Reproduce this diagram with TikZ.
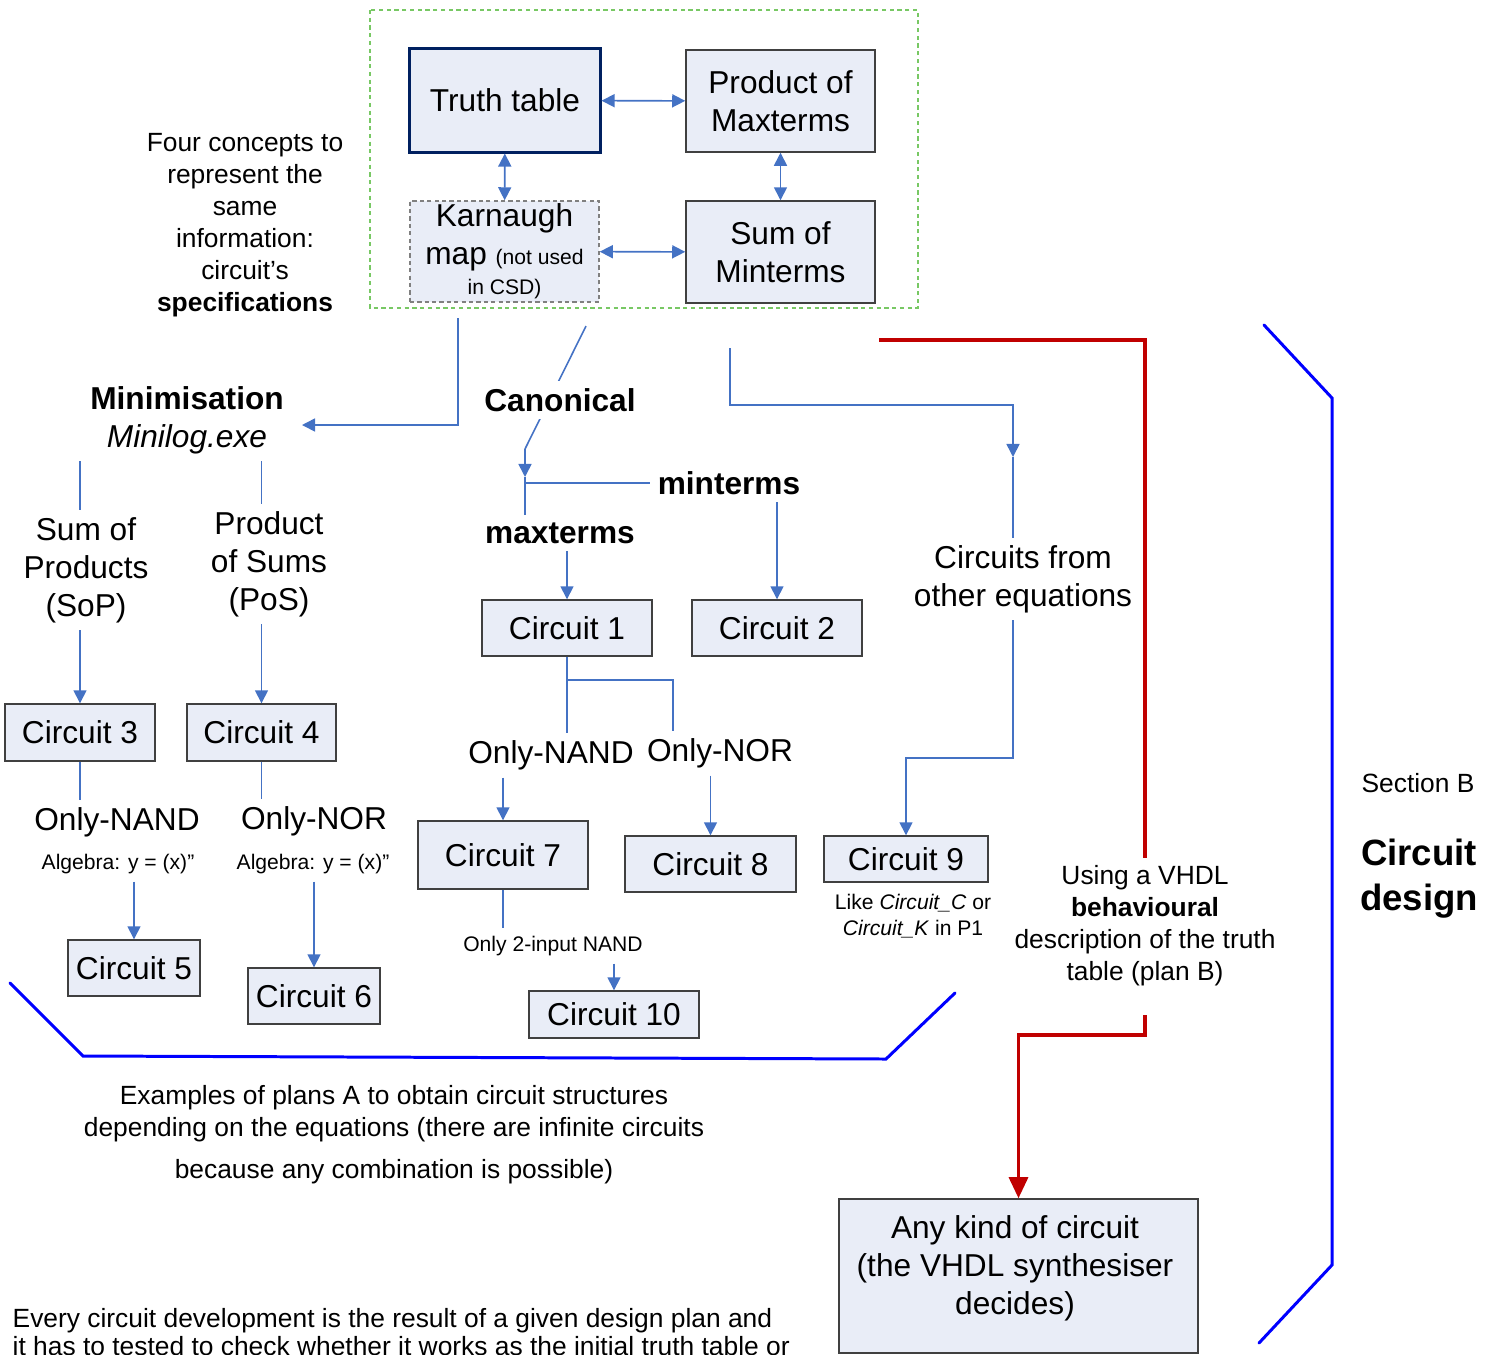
\documentclass[tikz,border=0pt]{standalone}
\usepackage{fontspec}
\setmainfont{Liberation Sans}
\usetikzlibrary{arrows.meta}

\definecolor{lineblue}{RGB}{68,114,196}
\definecolor{boxfill}{RGB}{233,237,247}
\definecolor{boxline}{RGB}{64,64,64}
\definecolor{ttline}{RGB}{0,32,96}
\definecolor{greendash}{RGB}{120,200,100}
\definecolor{planred}{RGB}{192,0,0}
\definecolor{bracketblue}{RGB}{0,0,255}
\newcommand{\notefont}{\fontsize{6}{7.4}\selectfont}

\begin{document}
\begin{tikzpicture}[x=0.01cm, y=-0.01cm,
  bigtxt/.style={font=\fontsize{9}{10.8}\selectfont},
  midtxt/.style={font=\fontsize{7.5}{9.1}\selectfont},
  smalltxt/.style={font=\notefont},
  box/.style={draw=boxline, fill=boxfill, line width=0.4pt, inner sep=0pt, align=center, bigtxt},
  lbl/.style={align=center, inner sep=2pt},
  line/.style={draw=lineblue, line width=0.45pt},
  arr/.style={line, -{Triangle[length=3.7pt, width=3.7pt]}},
  arrs/.style={line, {Triangle[length=3.7pt, width=3.7pt]}-{Triangle[length=3.7pt, width=3.7pt]}},
  planb/.style={draw=planred, line width=0.95pt},
  bracket/.style={draw=bracketblue, line width=0.85pt, line cap=round}]

\useasboundingbox (0,0) rectangle (1485,1354);

% the four concepts
\draw[greendash, line width=0.4pt, dash pattern=on 1.2pt off 1pt] (370,10) rectangle (918,308);
\node[box, minimum width=1.9cm, minimum height=1.03cm, draw=ttline, line width=0.85pt] (truth) at (505,100.5) {Truth table};
\node[box, minimum width=1.89cm, minimum height=1.02cm] (maxt) at (780.5,101) {Product of\\Maxterms};
\node[box, minimum width=1.89cm, minimum height=1.01cm, draw=gray, dash pattern=on 1.2pt off 0.9pt] (kmap) at (504.5,251.5) {Karnaugh\\map {\notefont (not used}\\[-2.3pt]{\notefont in CSD)}};
\node[box, minimum width=1.89cm, minimum height=1.02cm] (mint) at (780.5,252) {Sum of\\Minterms};
\draw[arrs] (truth) -- (maxt);
\draw[arrs] (truth) -- (kmap);
\draw[arrs] (maxt) -- (mint);
\draw[arrs] (kmap) -- (mint);

\node[lbl, midtxt] (concepts) at (245,225) {Four concepts to\\represent the\\same\\information:\\circuit’s\\\textbf{specifications}};

% plan A: minimisation
\node[lbl, bigtxt, inner xsep=5pt] (mini) at (187,420) {\textbf{Minimisation}\\\textit{Minilog.exe}};
\node[lbl, bigtxt] (sop) at (86,570) {Sum of\\Products\\(SoP)};
\node[lbl, bigtxt] (pos) at (269,564) {Product\\of Sums\\(PoS)};
\node[box, minimum width=1.5cm, minimum height=0.57cm] (c3) at (80,732.5) {Circuit 3};
\node[box, minimum width=1.49cm, minimum height=0.57cm] (c4) at (261.5,732.5) {Circuit 4};
\node[lbl, bigtxt] (onandl) at (117,822) {Only-NAND};
\node[lbl, bigtxt] (onorl) at (314,821) {Only-NOR};
\node[lbl, smalltxt] (algl) at (118,864) {Algebra: y = (x)”};
\node[lbl, smalltxt] (algr) at (313,864) {Algebra: y = (x)”};
\node[box, minimum width=1.32cm, minimum height=0.56cm] (c5) at (134,968) {Circuit 5};
\node[box, minimum width=1.32cm, minimum height=0.56cm] (c6) at (314,996) {Circuit 6};

\coordinate (mtop) at (458,318);
\coordinate (mbend) at (458,425);
\draw[arr] (mtop) -- (mbend) -- (mbend -| mini.east);
\draw[line] (mini.south -| c3) -- (sop.north -| c3);
\draw[arr] (sop.south -| c3) -- (c3);
\draw[line] (mini.south -| c4) -- (pos.north -| c4);
\draw[arr] (pos.south -| c4) -- (c4);
\draw[line] (c3) -- (onandl.north -| c3);
\draw[line] (c4) -- (onorl.north -| c4);
\draw[arr] (algl.south -| c5) -- (c5);
\draw[arr] (algr.south -| c6) -- (c6);

% plan A: canonical
\node[lbl, bigtxt] (minterms) at (729,483) {\textbf{minterms}};
\node[lbl, bigtxt] (maxterms) at (560,533) {\textbf{maxterms}};
\node[box, minimum width=1.7cm, minimum height=0.56cm] (c1) at (567,628) {Circuit 1};
\node[box, minimum width=1.7cm, minimum height=0.56cm] (c2) at (777,628) {Circuit 2};
\node[lbl, bigtxt] (onandm) at (551,755) {Only-NAND};
\node[lbl, bigtxt] (onorm) at (720,753) {Only-NOR};
\node[box, minimum width=1.7cm, minimum height=0.68cm] (c7) at (503,855) {Circuit 7};
\node[box, minimum width=1.71cm, minimum height=0.56cm] (c8) at (710.5,864) {Circuit 8};
\node[lbl, smalltxt] (two) at (553,946) {Only 2-input NAND};
\node[box, minimum width=1.7cm, minimum height=0.47cm] (c10) at (614,1014.5) {Circuit 10};

\coordinate (ctop) at (586,326);
\coordinate (cbend) at (525,449);
\coordinate (ctip) at (525,477);
\coordinate (nbr) at (673,680);
\draw[arr] (ctop) -- (cbend) -- (ctip);
\draw[line] (ctip) -- (maxterms.north -| ctip);
\draw[line] (ctip |- minterms) -- (minterms);
\node[lbl, bigtxt, fill=white] (canon) at (560,400) {\textbf{Canonical}};
\draw[arr] (maxterms.south -| c1) -- (c1);
\draw[arr] (minterms.south -| c2) -- (c2);
\draw[line] (c1) -- (onandm.north -| c1);
\draw[line] (c1 |- nbr) -- (nbr) -- (nbr |- onorm.north);
\draw[arr] (onandm.south -| c7) -- (c7);
\draw[arr] (onorm.south -| c8) -- (c8);
\draw[line] (c7) -- (two.north -| c7);
\draw[arr] (two.south -| c10) -- (c10);

% plan A: other equations
\node[box, minimum width=1.64cm, minimum height=0.46cm] (c9) at (906,859) {Circuit 9};
\node[lbl, smalltxt] (like) at (913,916) {Like \textit{Circuit\_C} or\\\textit{Circuit\_K} in P1};
\coordinate (otop) at (730,348);
\coordinate (obend) at (1013,405);
\coordinate (otip) at (1013,457);
\coordinate (olow) at (1013,758);
\draw[arr] (otop) |- (obend) -- (otip);
\draw[arr] (otip) -- (olow) -| (c9);
\node[lbl, bigtxt, fill=white] (others) at (1023,579) {Circuits from\\other equations};

% plan B
\node[lbl, midtxt] (vhdl) at (1145,926) {Using a VHDL\\\textbf{behavioural}\\description of the truth\\table (plan B)};
\node[box, minimum width=3.59cm, minimum height=1.54cm] (anyc) at (1018.5,1276) {};
\node[lbl, bigtxt] (anyt) at (1015,1268) {Any kind of circuit\\(the VHDL synthesiser\\decides)};
\coordinate (rtop) at (879,340);
\coordinate (rbend) at (1145,340);
\coordinate (rlow) at (1145,1015);
\coordinate (rbend2) at (1145,1035);
\draw[planb] (rtop) -- (rbend) -- (vhdl.north -| rbend);
\draw[planb, -{Triangle[length=6pt, width=5.4pt]}] (rlow) -- (rbend2) -| (anyc);

% brackets
\draw[bracket] (10,983) -- (83,1056) -- (886,1059) -- (955,993);
\draw[bracket] (1264,325) -- (1332,398) -- (1332,1265) -- (1259,1343);
\node[lbl, midtxt] (section) at (1418,783) {Section B};
\node[lbl, font=\fontsize{10.4}{12.8}\selectfont\bfseries] (design) at (1419,879) {Circuit\\design};

\node[lbl, midtxt] (plana) at (394,1135) {Examples of plans A to obtain circuit structures\\depending on the equations (there are infinite circuits\\[2.8pt]because any combination is possible)};
\node[anchor=west, align=left, inner sep=0pt, font=\fontsize{7.5}{8}\selectfont] (every) at (12,1332) {Every circuit development is the result of a given design plan and\\it has to tested to check whether it works as the initial truth table or};
\end{tikzpicture}
\end{document}
